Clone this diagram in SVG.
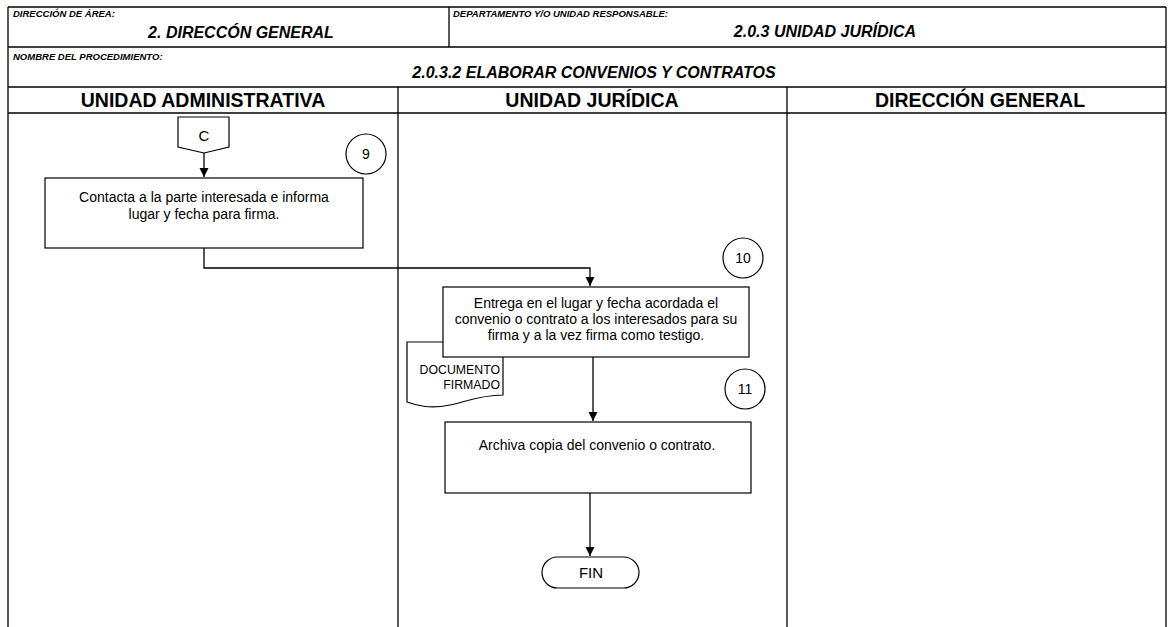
<svg xmlns="http://www.w3.org/2000/svg" width="1169" height="627" viewBox="0 0 1169 627">
<style>
.ln{stroke:#000;stroke-width:1.3;fill:none}
.shp{stroke:#000;stroke-width:1.2;fill:#fff}
.lbl{font-family:"Liberation Sans",Arial,sans-serif;font-weight:bold;font-style:italic;font-size:9.5px}
.ttl{font-family:"Liberation Sans",Arial,sans-serif;font-weight:bold;font-style:italic;font-size:16px;text-anchor:middle}
.lane{font-family:"Liberation Sans",Arial,sans-serif;font-weight:bold;font-size:19.5px;text-anchor:middle}
.t{font-family:"Liberation Sans",Arial,sans-serif;font-size:14px;text-anchor:middle}
.ts{font-family:"Liberation Sans",Arial,sans-serif;font-size:12.3px;text-anchor:end}
.c{stroke:#000;stroke-width:1.2;fill:#fff}
</style>
<defs>
<marker id="ah" viewBox="0 0 10 10" refX="10" refY="5" markerWidth="9" markerHeight="10" markerUnits="userSpaceOnUse" orient="auto"><path d="M0,0 L10,5 L0,10 z" fill="#000"/></marker>
</defs>
<rect width="1169" height="627" fill="#fff"/>
<g id="frame">
<path class="ln" d="M8,7 H1166 M8,7 V627 M1166,7 V627 M8,47 H1166 M449,7 V47 M8,87 H1166 M8,113 H1166 M398,87 V627 M787,87 V627"/>
<text class="lbl" x="13" y="17">DIRECCIÓN DE ÁREA:</text>
<text class="ttl" x="241" y="38">2. DIRECCÓN GENERAL</text>
<text class="lbl" x="453" y="17">DEPARTAMENTO Y/O UNIDAD RESPONSABLE:</text>
<text class="ttl" x="825" y="37">2.0.3 UNIDAD JURÍDICA</text>
<text class="lbl" x="13" y="60">NOMBRE DEL PROCEDIMIENTO:</text>
<text class="ttl" x="594" y="78">2.0.3.2 ELABORAR CONVENIOS Y CONTRATOS</text>
<text class="lane" x="203" y="107">UNIDAD ADMINISTRATIVA</text>
<text class="lane" x="592" y="107">UNIDAD JURÍDICA</text>
<text class="lane" x="980" y="107">DIRECCIÓN GENERAL</text>
</g>
<g id="connectors">
<path class="ln" d="M204,153 V177" marker-end="url(#ah)"/>
<path class="ln" d="M204,248 V268 H590 V286" marker-end="url(#ah)"/>
<path class="ln" d="M593,357 V421" marker-end="url(#ah)"/>
<path class="ln" d="M590,493 V556" marker-end="url(#ah)"/>
</g>
<g id="conn-c">
<path class="shp" d="M178,117 H229 V147 L204,153 L178,147 Z"/>
<text class="t" x="204" y="141" style="font-size:15px">C</text>
</g>
<g id="step9">
<circle class="c" cx="366" cy="154" r="20"/>
<text class="t" x="366" y="159">9</text>
</g>
<g id="box1">
<rect class="shp" x="45" y="178" width="318" height="70"/>
<text class="t" x="204" y="202">Contacta a la parte interesada e informa</text>
<text class="t" x="204" y="219">lugar y fecha para firma.</text>
</g>
<g id="step10">
<circle class="c" cx="743" cy="258" r="20"/>
<text class="t" x="743" y="263">10</text>
</g>
<g id="doc">
<path class="shp" d="M407,342 H503 V395 C480,395 465,402 450,405 C430,409 418,406 407,402 Z"/>
<text class="ts" x="500" y="374">DOCUMENTO</text>
<text class="ts" x="500" y="389">FIRMADO</text>
</g>
<g id="box2">
<rect class="shp" x="443" y="287" width="306" height="70"/>
<text class="t" x="596" y="308">Entrega en el lugar y fecha acordada el</text>
<text class="t" x="596" y="324">convenio o contrato a los interesados para su</text>
<text class="t" x="596" y="340">firma y a la vez firma como testigo.</text>
</g>
<g id="step11">
<circle class="c" cx="745" cy="389" r="20"/>
<text class="t" x="745" y="394">11</text>
</g>
<g id="box3">
<rect class="shp" x="445" y="422" width="306" height="71"/>
<text class="t" x="597" y="450">Archiva copia del convenio o contrato.</text>
</g>
<g id="fin">
<rect class="shp" x="542" y="557" width="97" height="31" rx="15.5"/>
<text class="t" x="591" y="578" style="font-size:15px">FIN</text>
</g>
</svg>
